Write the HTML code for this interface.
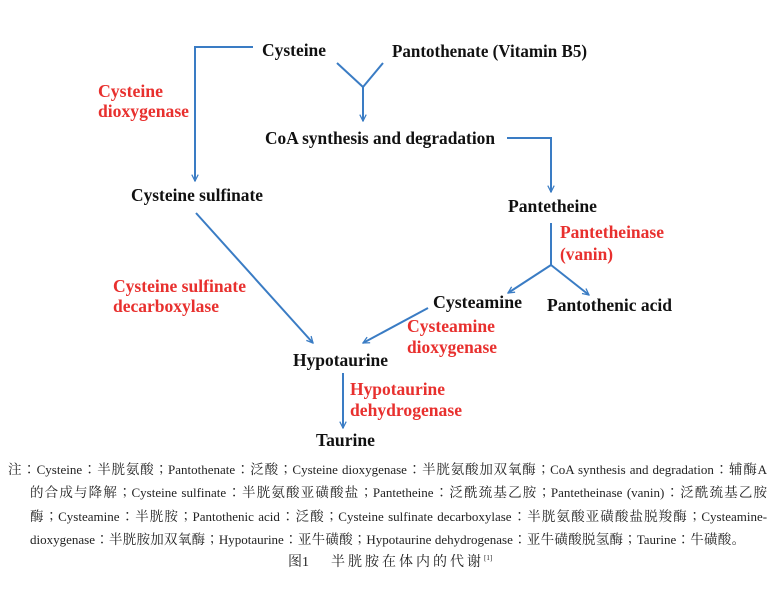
<!DOCTYPE html>
<html>
<head>
<meta charset="utf-8">
<style>
  html,body{margin:0;padding:0;background:#fff;}
  body{width:774px;height:593px;position:relative;overflow:hidden;}
  svg{position:absolute;left:0;top:0;}
  .cap{position:absolute;font-family:"Liberation Serif","Noto Serif CJK SC",serif;font-size:13px;line-height:20px;color:#222;text-align:justify;text-align-last:justify;white-space:normal;}
  .c{font-family:"Noto Serif CJK SC",serif;font-size:13.5px;}
  .j{font-family:"Noto Serif CJK JP",serif;font-size:13.5px;}
  .title{position:absolute;left:288px;top:553px;font-family:"Liberation Serif","Noto Serif CJK SC",serif;font-size:14px;line-height:20px;color:#222;white-space:nowrap;}
  .title .t{margin-left:22px;letter-spacing:3px;}
  .title sup{font-size:7px;letter-spacing:0;vertical-align:6px;line-height:0;}
</style>
</head>
<body>
<svg width="774" height="593" viewBox="0 0 774 593" xmlns="http://www.w3.org/2000/svg">
  <defs>
    <marker id="ah" viewBox="0 0 10 10" refX="9" refY="5" markerWidth="8" markerHeight="8" markerUnits="userSpaceOnUse" orient="auto">
      <path d="M1,1 L9,5 L1,9" fill="none" stroke="#3a7cc4" stroke-width="1.6"/>
    </marker>
  </defs>
  <g stroke="#3a7cc4" stroke-width="2" fill="none">
    <polyline points="253,47 195,47 195,181" marker-end="url(#ah)"/>
    <line x1="337" y1="63" x2="363" y2="87"/>
    <line x1="383" y1="63" x2="363" y2="87"/>
    <line x1="363" y1="87" x2="363" y2="121" marker-end="url(#ah)"/>
    <polyline points="507,138 551,138 551,192" marker-end="url(#ah)"/>
    <line x1="551" y1="223" x2="551" y2="265"/>
    <line x1="551" y1="265" x2="508" y2="293" marker-end="url(#ah)"/>
    <line x1="551" y1="265" x2="589" y2="295" marker-end="url(#ah)"/>
    <line x1="196" y1="213" x2="313" y2="343" marker-end="url(#ah)"/>
    <line x1="428" y1="308" x2="363" y2="343" marker-end="url(#ah)"/>
    <line x1="343" y1="373" x2="343" y2="428" marker-end="url(#ah)"/>
  </g>
  <g font-family="Liberation Serif, serif" font-weight="bold" font-size="17.5" fill="#111">
    <text x="262" y="56" textLength="64" lengthAdjust="spacingAndGlyphs">Cysteine</text>
    <text x="392" y="57" textLength="195" lengthAdjust="spacingAndGlyphs">Pantothenate (Vitamin B5)</text>
    <text x="265" y="144" textLength="230" lengthAdjust="spacingAndGlyphs">CoA synthesis and degradation</text>
    <text x="131" y="201" textLength="132" lengthAdjust="spacingAndGlyphs">Cysteine sulfinate</text>
    <text x="508" y="212" textLength="89" lengthAdjust="spacingAndGlyphs">Pantetheine</text>
    <text x="433" y="308" textLength="89" lengthAdjust="spacingAndGlyphs">Cysteamine</text>
    <text x="547" y="311" textLength="125" lengthAdjust="spacingAndGlyphs">Pantothenic acid</text>
    <text x="293" y="366" textLength="95" lengthAdjust="spacingAndGlyphs">Hypotaurine</text>
    <text x="316" y="446" textLength="59" lengthAdjust="spacingAndGlyphs">Taurine</text>
  </g>
  <g font-family="Liberation Serif, serif" font-weight="bold" font-size="17.5" fill="#e8302e">
    <text x="98" y="97" textLength="65" lengthAdjust="spacingAndGlyphs">Cysteine</text>
    <text x="98" y="117" textLength="91" lengthAdjust="spacingAndGlyphs">dioxygenase</text>
    <text x="113" y="292" textLength="133" lengthAdjust="spacingAndGlyphs">Cysteine sulfinate</text>
    <text x="113" y="312" textLength="106" lengthAdjust="spacingAndGlyphs">decarboxylase</text>
    <text x="560" y="238" textLength="104" lengthAdjust="spacingAndGlyphs">Pantetheinase</text>
    <text x="560" y="260" textLength="53" lengthAdjust="spacingAndGlyphs">(vanin)</text>
    <text x="407" y="332" textLength="88" lengthAdjust="spacingAndGlyphs">Cysteamine</text>
    <text x="407" y="353" textLength="90" lengthAdjust="spacingAndGlyphs">dioxygenase</text>
    <text x="350" y="395" textLength="95" lengthAdjust="spacingAndGlyphs">Hypotaurine</text>
    <text x="350" y="416" textLength="112" lengthAdjust="spacingAndGlyphs">dehydrogenase</text>
  </g>
</svg>

<div class="cap" style="left:8px;top:458px;width:759px;"><span class="c">注</span><span class="j">：</span>Cysteine<span class="j">：</span><span class="c">半胱氨酸</span><span class="j">；</span>Pantothenate<span class="j">：</span><span class="c">泛酸</span><span class="j">；</span>Cysteine dioxygenase<span class="j">：</span><span class="c">半胱氨酸加双氧酶</span><span class="j">；</span>CoA synthesis and degradation<span class="j">：</span><span class="c">辅酶</span>A</div>
<div class="cap" style="left:30px;top:481px;width:737px;"><span class="c">的合成与降解</span><span class="j">；</span>Cysteine sulfinate<span class="j">：</span><span class="c">半胱氨酸亚磺酸盐</span><span class="j">；</span>Pantetheine<span class="j">：</span><span class="c">泛酰巯基乙胺</span><span class="j">；</span>Pantetheinase (vanin)<span class="j">：</span><span class="c">泛酰巯基乙胺</span></div>
<div class="cap" style="left:30px;top:505px;width:737px;"><span class="c">酶</span><span class="j">；</span>Cysteamine<span class="j">：</span><span class="c">半胱胺</span><span class="j">；</span>Pantothenic acid<span class="j">：</span><span class="c">泛酸</span><span class="j">；</span>Cysteine sulfinate decarboxylase<span class="j">：</span><span class="c">半胱氨酸亚磺酸盐脱羧酶</span><span class="j">；</span>Cysteamine-</div>
<div class="cap" style="left:30px;top:528px;width:715px;">dioxygenase<span class="j">：</span><span class="c">半胱胺加双氧酶</span><span class="j">；</span>Hypotaurine<span class="j">：</span><span class="c">亚牛磺酸</span><span class="j">；</span>Hypotaurine dehydrogenase<span class="j">：</span><span class="c">亚牛磺酸脱氢酶</span><span class="j">；</span>Taurine<span class="j">：</span><span class="c">牛磺酸。</span></div>

<div class="title">图1<span class="t">半胱胺在体内的代谢<sup>[1]</sup></span></div>
</body>
</html>
